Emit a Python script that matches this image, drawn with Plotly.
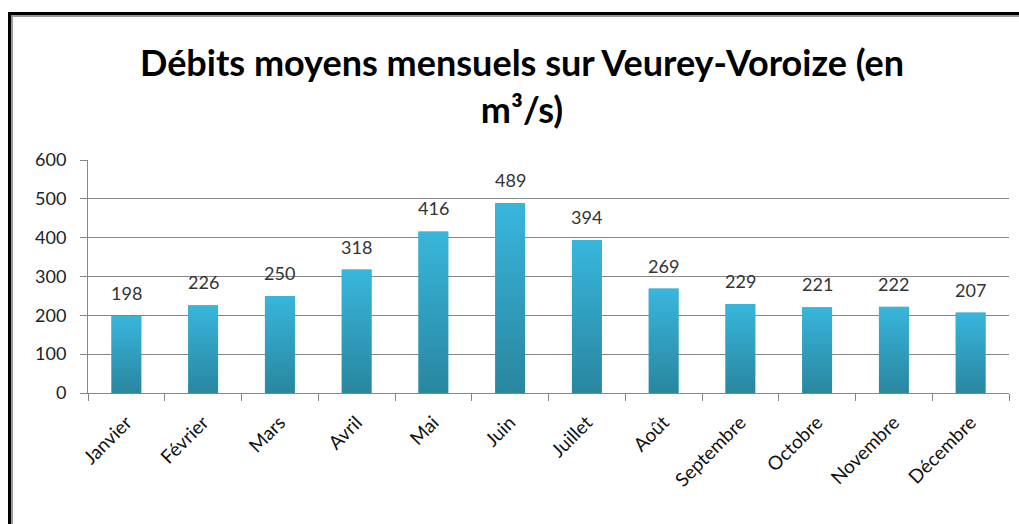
import base64
import plotly.graph_objects as go

# Monthly mean discharge at Veurey-Voroize (m3/s)
months = ["Janvier", "Février", "Mars", "Avril", "Mai", "Juin",
          "Juillet", "Août", "Septembre", "Octobre", "Novembre", "Décembre"]
debits = [198, 226, 250, 318, 416, 489, 394, 269, 229, 221, 222, 207]
y_ticks = [0, 100, 200, 300, 400, 500, 600]

W, H = 1019, 524
ML, MR, MT, MB = 88, 10, 160, 131
PW, PH = W - ML - MR, H - MT - MB
BAR_W = 0.39
FONT = "Lato, 'Open Sans', sans-serif"


def px_x(px):
    return (px - ML) / PW


def px_y(py):
    return (H - MB - py) / PH


# vertical gradient used to shade each bar (light top, dark bottom)
grad_svg = (
    "<svg xmlns='http://www.w3.org/2000/svg' width='10' height='100' "
    "viewBox='0 0 10 100' preserveAspectRatio='none'>"
    "<defs><linearGradient id='g' x1='0' y1='0' x2='0' y2='1'>"
    "<stop offset='0' stop-color='#38b6dc'/>"
    "<stop offset='1' stop-color='#29869f'/>"
    "</linearGradient></defs>"
    "<rect width='10' height='100' fill='url(#g)'/></svg>"
)
grad_src = "data:image/svg+xml;base64," + base64.b64encode(grad_svg.encode()).decode()

fig = go.Figure()
fig.add_trace(go.Bar(
    x=months, y=debits, width=BAR_W,
    marker=dict(color="#31a0c0", line=dict(width=0)),
    hoverinfo="x+y", showlegend=False,
))

images = []
for i, v in enumerate(debits):
    images.append(dict(
        source=grad_src, xref="x", yref="y",
        x=i - BAR_W / 2, y=v, sizex=BAR_W, sizey=v,
        xanchor="left", yanchor="top", sizing="stretch", layer="above",
    ))

annotations = []
for m, v in zip(months, debits):
    annotations.append(dict(
        x=m, y=v, text=str(v), showarrow=False, yanchor="middle", yshift=23,
        font=dict(family=FONT, size=18, color="#333333"),
    ))

shapes = [
    # outer black frame
    dict(type="line", xref="paper", yref="paper", x0=px_x(9.5), x1=px_x(1030),
         y0=px_y(13.5), y1=px_y(13.5), line=dict(color="black", width=3)),
    dict(type="line", xref="paper", yref="paper", x0=px_x(9.5), x1=px_x(9.5),
         y0=px_y(12), y1=px_y(540), line=dict(color="black", width=3)),
    # inner grey frame
    dict(type="line", xref="paper", yref="paper", x0=px_x(12), x1=px_x(1030),
         y0=px_y(16), y1=px_y(16), line=dict(color="#9a9a9a", width=2)),
    dict(type="line", xref="paper", yref="paper", x0=px_x(12), x1=px_x(12),
         y0=px_y(15), y1=px_y(540), line=dict(color="#9a9a9a", width=2)),
]

fig.update_layout(
    width=W, height=H,
    margin=dict(l=ML, r=MR, t=MT, b=MB, pad=0),
    paper_bgcolor="white", plot_bgcolor="white",
    title=dict(
        text="Débits moyens mensuels sur Veurey-Voroize (en<br>m³/s)",
        xref="container", yref="container", x=522 / W, y=1 - 76 / H,
        xanchor="center", yanchor="middle",
        font=dict(family=FONT, size=36, color="black", weight="bold"),
    ),
    xaxis=dict(
        type="category", tickson="boundaries", ticks="outside", ticklen=7,
        tickcolor="#868686", tickangle=-45, showgrid=False,
        showline=True, linecolor="#868686", linewidth=1,
        ticklabelstandoff=10,
        tickfont=dict(family=FONT, size=19, color="#111111"),
        range=[-0.5, 11.5],
    ),
    yaxis=dict(
        range=[0, 600], tickvals=y_ticks, ticks="outside", ticklen=7,
        tickcolor="#868686", showgrid=True, gridcolor="#868686", gridwidth=1,
        showline=True, linecolor="#868686", linewidth=1, zeroline=False,
        ticklabelstandoff=10,
        tickfont=dict(family=FONT, size=18, color="#222222"),
    ),
    images=images, annotations=annotations, shapes=shapes,
    bargap=0.6,
)

fig.write_html("out.html")
